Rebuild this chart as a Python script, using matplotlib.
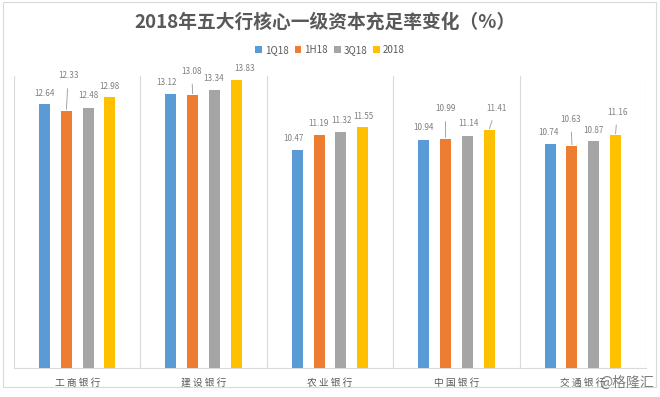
import matplotlib.pyplot as plt
import numpy as np
from matplotlib.patches import Rectangle

plt.rcParams['font.family'] = ['Noto Sans CJK SC', 'DejaVu Sans']

banks = ['工商银行', '建设银行', '农业银行', '中国银行', '交通银行']
series = ['1Q18', '1H18', '3Q18', '2018']
q1_18 = [12.64, 13.12, 10.47, 10.94, 10.74]
h1_18 = [12.33, 13.08, 11.19, 10.99, 10.63]
q3_18 = [12.48, 13.34, 11.32, 11.14, 10.87]
y2018 = [12.98, 13.83, 11.55, 11.41, 11.16]

colors = ['#5B9BD5', '#ED7D31', '#A5A5A5', '#FFC000']

# label offsets in pixels (dx, dy) from the top of each bar, per series
label_offsets = [
    [(0, 11), (-4, 12), (-4, 11), (0, 12), (-2, 11)],
    [(2, 35), (-1, 24), (-1, 11), (0, 30), (-1, 27)],
    [(0, 12), (-1, 11), (1, 11), (1, 12), (0, 11)],
    [(0, 11), (8, 11), (1, 11), (7, 22), (2, 23)],
]
leaders = [
    [False] * 5,
    [True, True, False, True, True],
    [False] * 5,
    [False, False, False, True, True],
]


def main():
    fig = plt.figure(figsize=(6.6, 3.97), dpi=100)
    W, H = 660, 397
    ax = fig.add_axes([14 / W, 1 - 368 / H, (646 - 14) / W, (368 - 76) / H])

    x = np.arange(len(banks))
    step = 0.172
    width = 0.087
    all_vals = [q1_18, h1_18, q3_18, y2018]
    for i, (name, vals) in enumerate(zip(series, all_vals)):
        pos = x + (i - 1.5) * step
        ax.bar(pos, vals, width=width, color=colors[i], label=name, zorder=3)
        for j, v in enumerate(vals):
            dx, dy = label_offsets[i][j]
            arrow = None
            if leaders[i][j]:
                arrow = dict(arrowstyle='-', color='#a6a6a6', lw=0.7,
                             shrinkA=4, shrinkB=1)
            ax.annotate(f'{v:.2f}', xy=(pos[j], v), xytext=(dx, dy),
                        textcoords='offset pixels', ha='center', va='center',
                        fontsize=5.8, color='#7f7f7f', arrowprops=arrow)

    ax.set_xlim(-0.5, len(banks) - 0.5)
    ax.set_ylim(0, 14)
    for b in np.arange(-0.5, len(banks), 1.0):
        ax.axvline(b, color='#d9d9d9', lw=0.8, zorder=1)
    for s in ['top', 'right', 'left']:
        ax.spines[s].set_visible(False)
    ax.spines['bottom'].set_color('#d9d9d9')
    ax.set_yticks([])
    ax.set_xticks(x)
    ax.set_xticklabels([' '.join(b) for b in banks], fontsize=7, color='#595959')
    ax.tick_params(axis='x', length=0, pad=7)

    fig.text(325 / W, 1 - 22 / H, '2018年五大行核心一级资本充足率变化（%）',
             ha='center', va='center', fontsize=13.5, fontweight='bold',
             color='#595959')
    fig.legend(loc='center', bbox_to_anchor=(330 / W, 1 - 50 / H), ncol=4,
               frameon=False, fontsize=7, handlelength=0.7, handleheight=0.7,
               handletextpad=0.3, columnspacing=0.6, labelcolor='#595959')

    fig.add_artist(Rectangle((3 / W, 1 - 387 / H), 653 / W, 385 / H,
                             transform=fig.transFigure, fill=False,
                             edgecolor='#d9d9d9', lw=0.8))
    fig.text(654 / W, 1 - 383 / H, '@格隆汇', ha='right', va='center',
             fontsize=10, color='#666666', alpha=0.85)

    plt.savefig('out.png', dpi=100)


if __name__ == '__main__':
    main()
